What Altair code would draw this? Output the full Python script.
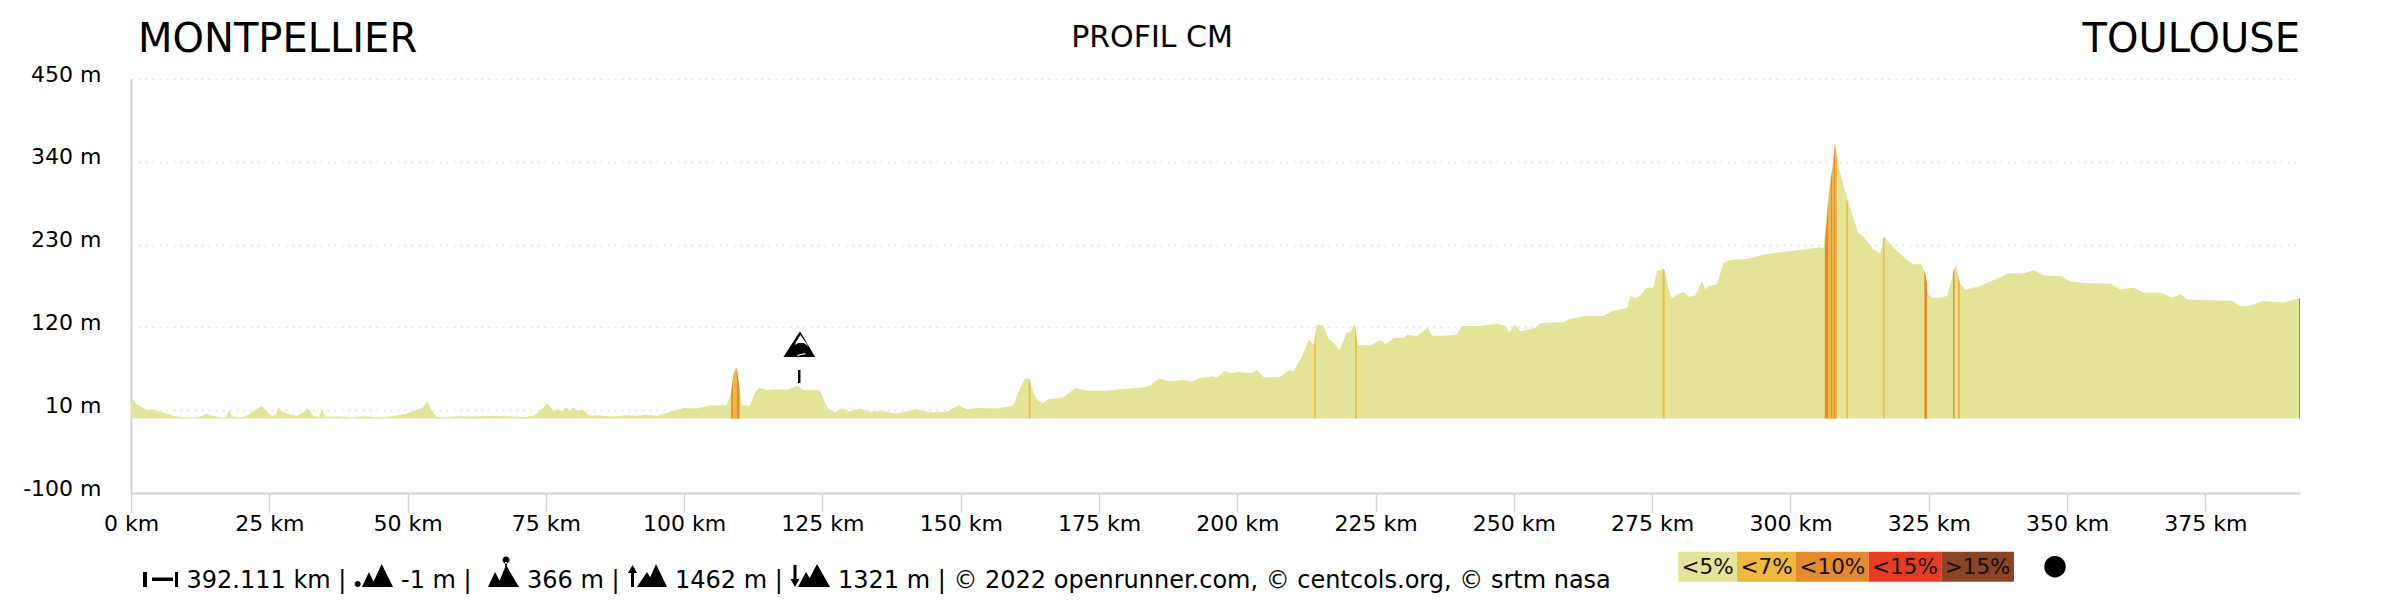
import altair as alt
import pandas as pd

# ---- data ----
km = [0,0.4,1.0,1.9,2.8,3.7,4.9,6.2,7.3,9.2,11,12.5,13.7,14.7,16.4,17.2,17.8,18.2,20,21.5,22.5,23.6,24.5,25.4,26.3,26.6,27.2,28.4,29.9,31.1,32,32.9,33.9,34.6,35.1,37.5,39.9,42.3,44.7,47.1,49.5,50.7,51.9,52.8,53.6,54.2,55.2,56.1,59.2,62.2,65.2,68.2,71.2,73,74.2,75.3,76.3,77.2,77.8,78.7,79.3,79.9,80.8,81.7,82.9,84.4,86.9,89.3,91.7,
      92.9,95,98.1,99.9,102.3,104.7,107.7,108.5,109.1,109.6,110.1,110.5,111.9,112.8,113.6,114.9,117.3,118.5,120.5,121.6,124.6,125.3,126.1,127.3,128.5,129.7,131.8,133.6,136,138.4,142,144.4,147.5,149.6,151.1,152.9,156.5,159.5,160.4,161.6,162.4,163.1,164,164.9,165.8,168.5,170.7,173,176.4,179.4,183,
      184.3,185.8,187.9,190.3,191.8,193,195.7,196.3,197.7,198.8,200.3,202.4,203.6,204.8,207.8,209.3,210.2,211.7,212.9,213.8,214.4,215.5,216.5,217.4,218.5,219.8,220.4,221.2,221.8,224.1,225.9,226.8,228.3,230.1,230.7,232.5,234.4,235.2,237.3,239.7,240.6,243.9,247,248.5,249.2,250.1,251.2,253.9,254.8,259,259.9,262.6,266.2,267.7,
      270.5,271.1,272,272.9,274,275.2,275.9,277.1,278,278.6,279.5,280.7,281.6,282.8,284,284.6,285.1,286.7,287.9,289.2,292.2,295.2,299.4,302.4,305.1,
      306,306.6,307.3,308.1,308.8,309.7,310.8,312.2,313.4,314.9,316.2,316.9,318.6,321,322.3,323.7,324.5,324.8,325.6,327.4,328.3,329.3,329.9,330.6,331.6,334.3,337.1,339.4,342.2,344,345.9,349.1,350.5,353.2,357.9,359.7,362,363.8,367.1,368.9,370.6,371.7,376.3,380,380.9,382.8,385.5,389.2,392.11]
elev = [20,24,18,14.5,10.5,11.4,9,6,3.4,0.8,0,1.7,4.8,2.5,0,1,10.5,1.7,0.8,4.8,10.5,16,9,1.7,5,13.6,9,4.8,2.5,7,13,2.5,1,10.5,1.7,1.7,0.3,2,0.8,2,4.8,8,11.4,13.6,22.5,11.4,1.7,0.8,2,1.7,2.5,2,1,3.4,11.4,19.4,9,11.4,9,13.6,9,13.6,9,10.5,2.5,3.4,1.7,3.4,2.5,
        4.3,2.5,9,13,12.3,16.7,16.7,33.5,65.5,65.5,33.5,16.7,16,33.5,40,37,38,37,42.4,37,36.6,22.5,11.4,7,13,8,12.3,8,8.7,5.6,11.4,7,8,16.7,11.4,13,12.3,16,33.5,52,52,33.5,22.5,19.4,24.7,27,39,36,36,38,40,
        43,52,48.6,50,47.7,52.6,55,53,62,59,60.6,59,63,53.5,54.4,63,62,82,104,97,124,122.6,105,99.6,90,114,113,125,97,96,103,98,106,106,110.6,108.4,119.5,109,109,110.6,122,122,125,122,113,124,115,119.5,126,127,130.6,135,135,141.6,
        146,161.6,159,162.5,172.7,172.7,195,198,170,158,164,167,160.7,162.5,181.5,170,175,177,206,209.4,211,217,221,223.6,226,
        226,277,317,365,330,305.5,279,246,239,224,219,241,226,210,204,204,188,164,159,160,161.6,188,205,179,170,175,184,192,192,196,189,188,181,179,178,170,173,166,166,159.4,164,157,156,155,149,148,155,153,159]
BASE_ELEV = -1

# gradient stripes: km from, elevation there, km to, elevation there, class
stripes = [
    (108.5,33,108.9,58,"<10%"),(108.9,58,109.5,66,"<7%"),(109.5,66,110.0,38,"<10%"),
    (162.3,52,162.6,46,"<7%"),(213.9,100,214.15,115,"<7%"),(221.3,125,221.6,105,"<7%"),
    (276.9,198,277.25,196,"<7%"),
    (306.2,228,306.9,292,"<10%"),(306.9,292,307.3,317,"<7%"),(307.3,317,307.6,332,"<10%"),
    (307.6,332,307.85,352,"<7%"),(307.85,352,308.05,363,"<10%"),(308.05,363,308.4,345,"<7%"),
    (310.1,290,310.4,284,"<7%"),(316.75,238,317.0,240,"<7%"),(324.2,198,324.7,178,"<10%"),
    (329.4,192,329.65,200,"<10%"),(330.3,190,330.65,178,"<7%"),(392.0,158,392.11,159,">15%"),
]
grades = ["<5%","<7%","<10%","<15%",">15%"]
grade_colors = ["#E3E497","#EFB83E","#E68A2E","#E63C22","#8B4524"]
legend_edges = [1678.3,1737,1796,1868.7,1941.3,2014]

x_ticks = list(range(0,376,25))
y_ticks = [-100,10,120,230,340,450]
title_left, title_mid, title_right = "MONTPELLIER","PROFIL CM","TOULOUSE"
footer = [(186.5,"392.111 km |"),(401,"-1 m |"),(527,"366 m |"),(675,"1462 m |"),
          (838,"1321 m | © 2022 openrunner.com, © centcols.org, © srtm nasa")]
summit_km, stem_low, stem_high, icon_elev = 120.8, 46, 63.5, 97.7

# ---- layout ----
PL, PT, W, H = 131, 79, 2169, 414
FONT = "DejaVu Sans"

def px(x): return x-PL
def py(y): return y-PT

def scale_pts(pts, cx, cy, S):
    return [((x-cx)/S,(y-cy)/S) for x,y in pts]
def poly(pts, cx, cy, S):
    q = scale_pts(pts,cx,cy,S)
    return "M"+" L".join(f"{x:.4f} {y:.4f}" for x,y in q)+" Z "
def rect(x0,y0,x1,y1,cx,cy,S):
    return poly([(x0,y0),(x1,y0),(x1,y1),(x0,y1)],cx,cy,S)
def circ(x,y,r,cx,cy,S):
    a,b=(x-r-cx)/S,(y-cy)/S; c=(x+r-cx)/S; R=r/S
    return f"M{a:.4f} {b:.4f} A{R:.4f} {R:.4f} 0 1 0 {c:.4f} {b:.4f} A{R:.4f} {R:.4f} 0 1 0 {a:.4f} {b:.4f} Z "

S=24
icons=[]
def add(cx,cy,path): icons.append((cx,cy,path))
c=(160,579)
add(*c,rect(143,572,147,587,*c,S)+rect(152,577.5,173,581,*c,S)+rect(175,572,178,587,*c,S))
c=(375,576)
add(*c,circ(357.7,584,3,*c,S)+poly([(362,587),(369,572),(376,587)],*c,S)+poly([(371,587),(381.7,564),(393,587)],*c,S))
c=(504,574)
add(*c,circ(506,560,3.5,*c,S)+rect(505,562,507,568,*c,S)+poly([(488,587),(495,572),(503,587)],*c,S)+poly([(497,587),(506,565),(519,587)],*c,S))
c=(648,576)
add(*c,poly([(632.6,565),(637,573),(634,573),(634,587),(631,587),(631,573),(628,573)],*c,S)+poly([(637,587),(647,572),(656,587)],*c,S)+poly([(646,587),(656,564),(667,587)],*c,S))
c=(811,576)
add(*c,poly([(795,587),(790.5,579),(793.5,579),(793.5,565),(796.5,565),(796.5,579),(799.5,579)],*c,S)+poly([(798,587),(806,572),(815,587)],*c,S)+poly([(805,587),(817,564),(830,587)],*c,S))

# mountain pictogram (zoom coordinates of the marker, converted to px)
def mz(x,y): return (680+x/3,300+y/3)
mc=(797.5,344.5)
outer=[mz(355,95),mz(400,172),mz(305,172)]
hole=[mz(356,106),mz(346,122),mz(339,136),mz(350,130),mz(366,130),mz(380,140)]
wave=[mz(345,170),mz(372,163),mz(370,160),mz(348,165)]
mountain=poly(outer,*mc,S)+poly(hole,*mc,S)+poly(wave,*mc,S)

# ---- chart ----
profile = pd.DataFrame({"km":km,"elev":elev,"base":BASE_ELEV})
rows=[]
for i,(a,ea,b,eb,g) in enumerate(stripes):
    rows += [dict(km=a,elev=ea,base=BASE_ELEV,band=i,grade=g),dict(km=b,elev=eb,base=BASE_ELEV,band=i,grade=g)]
bands=pd.DataFrame(rows)

xs = alt.Scale(domain=[0,392.11],nice=False,zero=False)
ys = alt.Scale(domain=[-100,450],nice=False,zero=False)
AX = "#D0D4DC"

base_area = alt.Chart(profile).mark_area(color=grade_colors[0],interpolate="linear",opacity=1).encode(
    x=alt.X("km:Q",scale=xs,axis=alt.Axis(values=x_ticks,labelExpr="datum.value + ' km'",title=None,grid=False,
            domainColor=AX,domainWidth=2,tickColor=AX,tickWidth=1.5,tickSize=19,labelPadding=1,labelFontSize=22,
            labelColor="#000",labelFont=FONT,labelOverlap=False,labelFlush=False)),
    y=alt.Y("elev:Q",scale=ys,stack=None,axis=alt.Axis(values=y_ticks,labelExpr="datum.value + ' m'",title=None,
            grid=True,gridColor="#E8E8E8",gridDash=[2,5],gridWidth=2,domainColor=AX,domainWidth=2,ticks=False,
            labelPadding=30,labelFontSize=22,labelColor="#000",labelFont=FONT,labelOffset=-5,labelOverlap=False,labelFlush=False)),
    y2=alt.Y2("base:Q"))

band_area = alt.Chart(bands).mark_area(interpolate="linear",opacity=1).encode(
    x=alt.X("km:Q",scale=xs),y=alt.Y("elev:Q",scale=ys,stack=None),y2=alt.Y2("base:Q"),
    detail="band:N",
    color=alt.Color("grade:N",scale=alt.Scale(domain=grades,range=grade_colors),legend=None))

stem = alt.Chart(pd.DataFrame({"km":[summit_km],"a":[stem_low],"b":[stem_high]})).mark_rule(color="#000",strokeWidth=2.5).encode(
    x=alt.X("km:Q",scale=xs),y=alt.Y("a:Q",scale=ys),y2=alt.Y2("b:Q"))
mount = alt.Chart(pd.DataFrame({"km":[summit_km],"e":[icon_elev]})).mark_point(shape=mountain,filled=True,color="#000",opacity=1,size=(2*S)**2).encode(
    x=alt.X("km:Q",scale=xs),y=alt.Y("e:Q",scale=ys))

def label(t,x,y,size,align="left",color="#000"):
    return alt.Chart(pd.DataFrame({"t":[t]})).mark_text(font=FONT,fontSize=size,align=align,baseline="alphabetic",color=color).encode(
        text="t:N",x=alt.value(px(x)),y=alt.value(py(y)))

layers=[base_area,band_area,stem,mount,
        label(title_left,138,52,40),label(title_mid,1152,47,30,"center"),label(title_right,2300,52,40,"right")]
for x,t in footer:
    layers.append(label(t,x,588,24))
for cx,cy,p in icons:
    layers.append(alt.Chart(pd.DataFrame({"n":[1]})).mark_point(shape=p,filled=True,color="#000",opacity=1,size=(2*S)**2).encode(
        x=alt.value(px(cx)),y=alt.value(py(cy))))
for i,g in enumerate(grades):
    a,b=legend_edges[i],legend_edges[i+1]
    layers.append(alt.Chart(pd.DataFrame({"n":[1]})).mark_rect(color=grade_colors[i],opacity=1).encode(
        x=alt.value(px(a)),x2=alt.value(px(b)),y=alt.value(py(551.7)),y2=alt.value(py(581.7))))
    layers.append(label(g,(a+b)/2,574,21.5,"center","#111"))
layers.append(alt.Chart(pd.DataFrame({"n":[1]})).mark_point(shape="circle",filled=True,color="#000",opacity=1,size=460).encode(
    x=alt.value(px(2055)),y=alt.value(py(566.7))))

chart = alt.layer(*layers).resolve_scale(color="independent").properties(
    width=W,height=H,
    autosize=alt.AutoSizeParams(type="none"),
    padding={"left":PL-8,"top":PT-8,"right":80,"bottom":105},
    background="white",
).configure_view(stroke=None)

chart.save("out.html",embed_options={"renderer":"svg","actions":False})
